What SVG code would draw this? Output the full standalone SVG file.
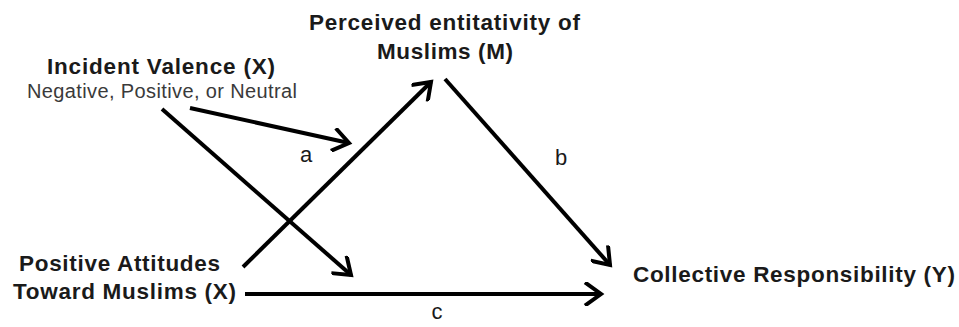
<svg xmlns="http://www.w3.org/2000/svg" width="959" height="327" viewBox="0 0 959 327">
<style>
.b{font-family:"Liberation Sans",Arial,sans-serif;font-weight:bold;font-size:22.5px;fill:#1a1a1a}
.r{font-family:"Liberation Sans",Arial,sans-serif;font-size:20px;fill:#3a3a3a}
.l{font-family:"Liberation Sans",Arial,sans-serif;font-size:22px;fill:#1a1a1a}
.e{stroke:#000;stroke-width:4;fill:none;marker-end:url(#ah)}
</style>
<defs>
<marker id="ah" markerWidth="6" markerHeight="6" viewBox="-5 -3 6 6" refX="0" refY="0" orient="auto" markerUnits="strokeWidth">
<path d="M-3.6,-2.6 L0,0 L-3.6,2.6" fill="none" stroke="#000" stroke-width="1" stroke-linecap="square"/>
</marker>
</defs>
<rect width="959" height="327" fill="#fff"/>
<g id="nodeX1">
<text class="b" x="47" y="74" textLength="228" lengthAdjust="spacing">Incident Valence (X)</text>
<text class="r" x="27" y="98" textLength="270" lengthAdjust="spacing">Negative, Positive, or Neutral</text>
</g>
<g id="nodeM">
<text class="b" x="309" y="30" textLength="271" lengthAdjust="spacing">Perceived entitativity of</text>
<text class="b" x="377" y="59" textLength="136" lengthAdjust="spacing">Muslims (M)</text>
</g>
<g id="nodeX2">
<text class="b" x="19" y="271" textLength="201" lengthAdjust="spacing">Positive Attitudes</text>
<text class="b" x="13" y="299" textLength="223" lengthAdjust="spacing">Toward Muslims (X)</text>
</g>
<g id="nodeY">
<text class="b" x="633" y="282" textLength="322" lengthAdjust="spacing">Collective Responsibility (Y)</text>
</g>
<g id="connectors">
<line class="e" x1="190" y1="108" x2="349" y2="143"/>
<line class="e" x1="162" y1="109" x2="351" y2="275"/>
<line class="e" x1="243" y1="267" x2="431" y2="82"/>
<line class="e" x1="445" y1="79" x2="610" y2="265"/>
<line class="e" x1="245" y1="294" x2="601" y2="294"/>
<text class="l" x="306" y="162" text-anchor="middle">a</text>
<text class="l" x="561" y="165" text-anchor="middle">b</text>
<text class="l" x="437" y="319" text-anchor="middle">c</text>
</g>
</svg>
